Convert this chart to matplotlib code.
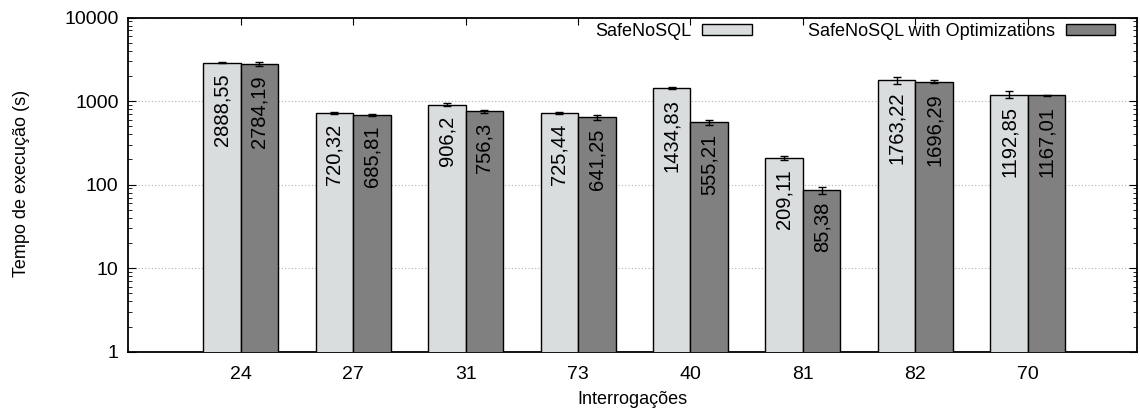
import numpy as np
import matplotlib
matplotlib.use("Agg")
import matplotlib.pyplot as plt

plt.rcParams["font.family"] = ["Liberation Sans", "DejaVu Sans"]

queries = ["24", "27", "31", "73", "40", "81", "82", "70"]
safe = [2888.55, 720.32, 906.2, 725.44, 1434.83, 209.11, 1763.22, 1192.85]
safe_err = [60, 25, 30, 20, 50, 12, 170, 110]
opt = [2784.19, 685.81, 756.3, 641.25, 555.21, 85.38, 1696.29, 1167.01]
opt_err = [130, 15, 30, 40, 40, 8, 70, 25]

light = "#dadddd"
dark = "#7f807f"

fig = plt.figure(figsize=(11.4, 4.16), dpi=100)
ax = fig.add_axes([0.1125, 0.1546, 0.8848, 0.8033])

x = np.arange(len(queries))
w = 1 / 3
ax.bar(x - w / 2, safe, w, color=light, edgecolor="black", linewidth=1,
       yerr=safe_err, error_kw=dict(elinewidth=1, capsize=3, capthick=1, ecolor="black"),
       label="SafeNoSQL", zorder=3)
ax.bar(x + w / 2, opt, w, color=dark, edgecolor="black", linewidth=1,
       yerr=opt_err, error_kw=dict(elinewidth=1, capsize=3, capthick=1, ecolor="black"),
       label="SafeNoSQL with Optimizations", zorder=3)

for xs, vals in [(x - w / 2, safe), (x + w / 2, opt)]:
    for xi, v in zip(xs, vals):
        txt = ("%.2f" % v).rstrip("0").rstrip(".").replace(".", ",")
        ax.annotate(txt, (xi, v), xytext=(0, -8), textcoords="offset points",
                    rotation=90, ha="center", va="top", fontsize=14.5, zorder=4)

ax.set_yscale("log")
ax.set_ylim(1, 10000)
ax.set_xlim(-1, 7.97)
ax.set_yticks([1, 10, 100, 1000, 10000])
ax.set_yticklabels(["1", "10", "100", "1000", "10000"])
ax.set_xticks(x)
ax.set_xticklabels(queries)
ax.tick_params(axis="both", which="both", direction="in", top=True, right=True,
               labelsize=14)
ax.tick_params(axis="y", which="major", length=6, pad=7)
ax.tick_params(axis="y", which="minor", length=3)
ax.tick_params(axis="x", which="major", length=5, pad=10)
ax.yaxis.grid(True, which="major", linestyle=(0, (1, 2)), color="#b0b0b0", linewidth=0.8, zorder=0)
for s in ax.spines.values():
    s.set_linewidth(1.3)

fig.text(22 / 1140, 0.56, "Tempo de execução (s)", rotation=90,
         ha="center", va="center", fontsize=13)
ax.set_xlabel("Interrogações", fontsize=13, labelpad=6)

ax.legend(ncol=2, loc="upper right", bbox_to_anchor=(0.982, 0.995), frameon=False,
          markerfirst=False, fontsize=13, handlelength=2.75, handleheight=0.5,
          handletextpad=0.6, columnspacing=3.1, borderaxespad=0, borderpad=0.2)

fig.savefig("out.png", dpi=100)
